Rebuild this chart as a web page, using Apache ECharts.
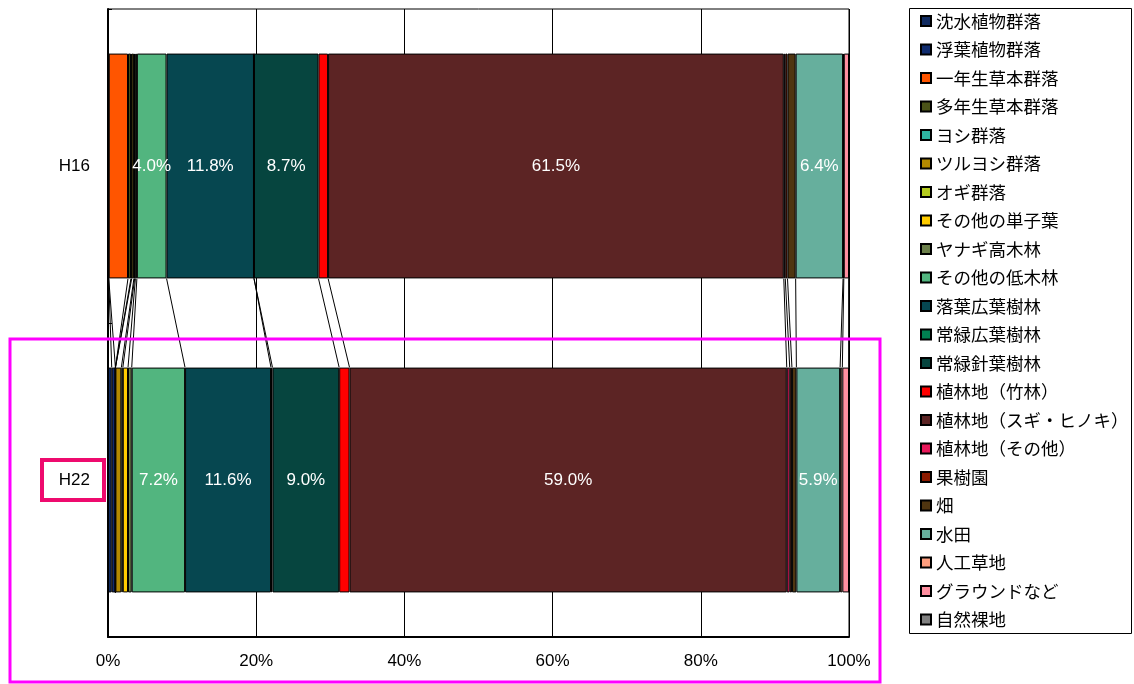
<!DOCTYPE html>
<html>
<head>
<meta charset="utf-8">
<script src="https://cdn.jsdelivr.net/npm/echarts@6/dist/echarts.min.js"></script>
<style>html,body{margin:0;padding:0;background:#fff}#c{width:1134px;height:684px}</style>
</head>
<body>
<div id="c"></div>
<script>
const categories = ['H16', 'H22'];
const seriesNames = ['沈水植物群落','浮葉植物群落','一年生草本群落','多年生草本群落','ヨシ群落','ツルヨシ群落','オギ群落','その他の単子葉','ヤナギ高木林','その他の低木林','落葉広葉樹林','常緑広葉樹林','常緑針葉樹林','植林地（竹林）','植林地（スギ・ヒノキ）','植林地（その他）','果樹園','畑','水田','人工草地','グラウンドなど','自然裸地'];
const valuesH16 = [0.1, 0, 2.6, 0.4, 0.1, 0.3, 0.1, 0.1, 0.2, 4.0, 11.8, 0, 8.7, 1.3, 61.5, 0.2, 0.3, 1.1, 6.4, 0.1, 0.7, 0];
const valuesH22 = [0.5, 0.5, 0, 0, 0, 0.8, 0.2, 0.7, 0.5, 7.2, 11.6, 0.2, 9.0, 1.4, 59.0, 0.4, 0.3, 0.6, 5.9, 0.3, 0.9, 0];
const xTickLabels = ['0%', '20%', '40%', '60%', '80%', '100%'];

const colors = ['#102A60','#0F2B6E','#FF5500','#4A5318','#2FB5A2','#B38A00','#B5CC20','#FFCC00','#6B7F4A','#52B57F','#064750','#008050','#06453F','#FF0000','#5C2424','#E8185A','#8B1A00','#4F3510','#66AF9D','#FF9F7F','#FF8FA0','#808080'];

const narrow = "'Liberation Sans Narrow','Liberation Sans',Arial,sans-serif";
const jp = "'Noto Sans CJK JP','Noto Sans',sans-serif";
const BAR_FRAC = 0.716;

const series = seriesNames.map((name, i) => ({
  name: name,
  type: 'bar',
  stack: 'total',
  barWidth: (BAR_FRAC * 100) + '%',
  data: [valuesH16[i], valuesH22[i]],
  itemStyle: { color: colors[i], borderColor: '#000', borderWidth: 1 },
  label: {
    show: true, position: 'inside', color: '#fff', fontSize: 17, fontFamily: narrow,
    formatter: p => (p.value >= 3 ? p.value.toFixed(1) + '%' : '')
  },
  emphasis: { disabled: true },
  animation: false
}));

// connector (series) lines between the two bars
const connData = [];
let c16 = 0, c22 = 0;
for (let i = 0; i < seriesNames.length; i++) {
  c16 += valuesH16[i]; c22 += valuesH22[i];
  connData.push([c16, 0, c22]);
}
series.push({
  type: 'custom',
  name: 'conn',
  silent: true,
  animation: false,
  encode: { x: 0, y: 1 },
  data: connData,
  renderItem: function (params, api) {
    const band = api.size([0, 1])[1];
    const half = band * BAR_FRAC / 2;
    const p1 = api.coord([api.value(0), 0]);
    const p2 = api.coord([api.value(2), 1]);
    return {
      type: 'line',
      shape: { x1: p1[0], y1: p1[1] + half, x2: p2[0], y2: p2[1] - half },
      style: { stroke: '#000', lineWidth: 1 }
    };
  },
  z: 1
});

const chart = echarts.init(document.getElementById('c'), null, { renderer: 'canvas' });
chart.setOption({
  animation: false,
  backgroundColor: '#fff',
  grid: { left: 108, right: 285, top: 9, bottom: 47, show: true, borderColor: '#000', borderWidth: 1 },
  xAxis: {
    type: 'value', min: 0, max: 100, interval: 20,
    axisLine: { show: true, lineStyle: { color: '#000', width: 2 } },
    axisTick: { show: false },
    splitLine: { show: true, lineStyle: { color: '#000', width: 1 } },
    axisLabel: { color: '#000', fontSize: 17, fontFamily: narrow, margin: 16,
      formatter: v => xTickLabels[Math.round(v / 20)] }
  },
  yAxis: {
    type: 'category', data: categories, inverse: true,
    axisLine: { show: true, lineStyle: { color: '#000', width: 2 } },
    axisTick: { show: true, inside: true, length: 4, lineStyle: { color: '#000' } },
    axisLabel: { color: '#000', fontSize: 17, fontFamily: narrow, margin: 18 }
  },
  legend: {
    orient: 'vertical', left: 915, top: 7,
    data: seriesNames,
    itemWidth: 10, itemHeight: 10, itemGap: 10.5,
    icon: 'rect',
    selectedMode: false,
    textStyle: { color: '#000', fontSize: 17.5, lineHeight: 18, fontFamily: jp, padding: [0, 0, 0, 0] }
  },
  graphic: [
    { type: 'rect', shape: { x: 909.5, y: 8.5, width: 222, height: 625 }, style: { fill: 'none', stroke: '#000', lineWidth: 1 }, silent: true, z: 0 },
    { type: 'rect', shape: { x: 10, y: 339, width: 870, height: 343 }, style: { fill: 'none', stroke: '#FF00FF', lineWidth: 3 }, silent: true, z: 10 },
    { type: 'rect', shape: { x: 42, y: 460, width: 62, height: 40 }, style: { fill: 'none', stroke: '#EE0A6E', lineWidth: 4 }, silent: true, z: 10 }
  ],
  series: series
});
</script>
</body>
</html>
